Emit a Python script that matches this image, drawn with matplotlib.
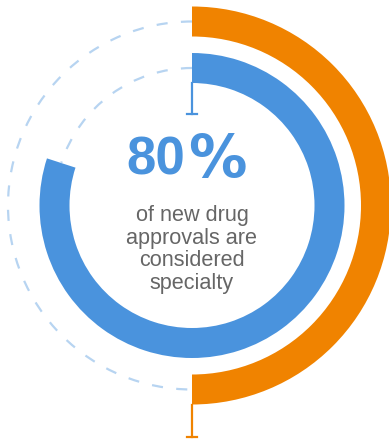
import matplotlib
matplotlib.use("Agg")
from matplotlib.pyplot import subplots
from matplotlib.patches import Wedge, Arc

# share of new drug approvals that are specialty (blue ring) and the outer half ring
labels = ["specialty", "outer"]
shares = [80, 50]
headline_num = "80"
headline_unit = "%"
caption = ["of new drug", "approvals are", "considered", "specialty"]

blue = "#4a93dd"
orange = "#f08300"
dash_col = "#b7d4f1"
grey = "#666666"

W, H = 389, 443
cx, cy = 192, H - 205.5
ring_w = 30
radii = {"specialty": 152.5, "outer": 199}

fig, ax = subplots(figsize=(W / 100, H / 100), dpi=100)
fig.subplots_adjust(0, 0, 1, 1)
ax.set_xlim(0, W)
ax.set_ylim(0, H)
ax.set_aspect("equal")
ax.axis("off")

for lab, share, col in zip(labels, shares, [blue, orange]):
    r = radii[lab]
    sweep = 360 * share / 100
    start = 90 - sweep  # clockwise from 12 o'clock
    ax.add_patch(Wedge((cx, cy), r, start, 90, width=ring_w, color=col, lw=0))
    # dashed remainder along the middle of the ring
    mid = r - ring_w / 2
    ax.add_patch(Arc((cx, cy), 2 * mid, 2 * mid, theta1=90, theta2=start + 360,
                     color=dash_col, lw=1.6, ls=(0, (5, 6))))

# small marker ticks at ring ends
r_in = radii["specialty"] - ring_w
ax.plot([cx, cx], [cy + r_in, cy + r_in - 31], color=blue, lw=1.6)
ax.plot([cx - 5, cx + 5], [cy + r_in - 31] * 2, color=blue, lw=1.6)
r_out = radii["outer"]
ax.plot([cx, cx], [cy - r_out, cy - r_out - 32], color=orange, lw=1.6)
ax.plot([cx - 5, cx + 5], [cy - r_out - 32] * 2, color=orange, lw=1.6)

# headline: number and a wide percent sign
ax.text(cx - 6.5, H - 174.5, headline_num, color=blue, fontsize=38, fontweight="bold",
        family="Liberation Sans", ha="right", va="baseline")
ax.text(cx - 4, H - 176.5, headline_unit, color=blue, fontsize=42, fontweight="bold",
        family="DejaVu Sans", ha="left", va="baseline")

for i, line in enumerate(caption):
    ax.text(cx, H - 221 - 22.5 * i, line, color=grey, fontsize=15.6,
            family="Liberation Sans", ha="center", va="baseline")

fig.savefig("out.png", dpi=100)
